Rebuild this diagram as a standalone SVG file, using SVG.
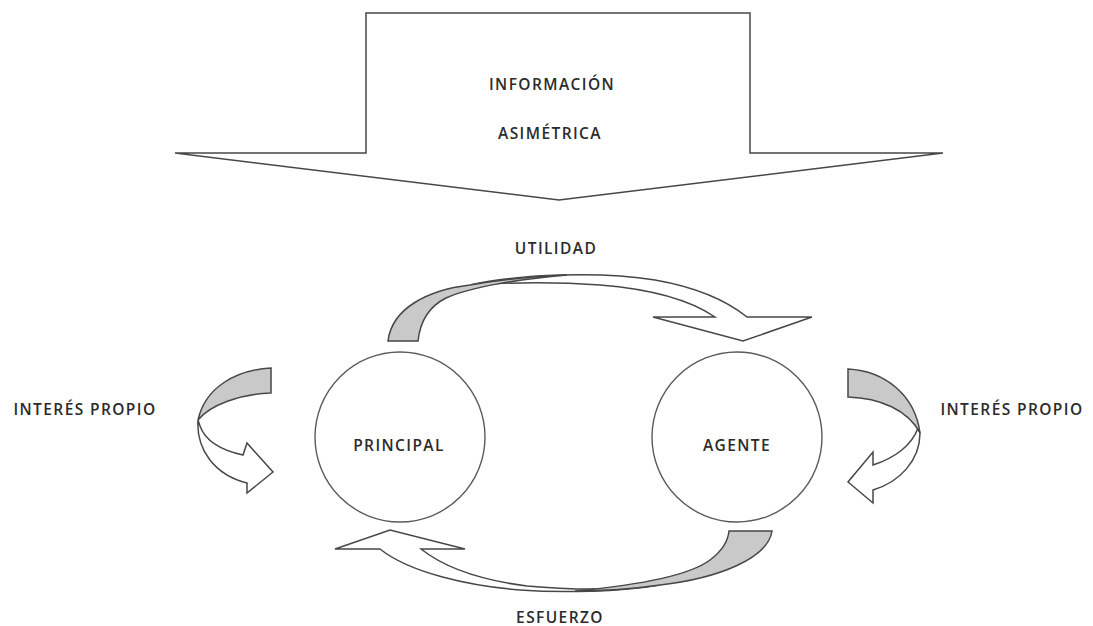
<svg xmlns="http://www.w3.org/2000/svg" width="1093" height="626" viewBox="0 0 1093 626">
<style>
.ln{fill:#fff;stroke:#474747;stroke-width:1.5;stroke-linejoin:miter}
.gr{fill:#c9c9c9;stroke:#474747;stroke-width:1.5}
.ci{fill:#fff;stroke:#5a5a5a;stroke-width:1.4}
.t{font-family:"Open Sans","Liberation Sans",sans-serif;font-size:15.5px;font-weight:600;letter-spacing:1.4px;fill:#2b2b2b;text-anchor:middle}
</style>
<rect width="1093" height="626" fill="#fff"/>
<g id="informacion">
<polygon class="ln" points="366,13 750,13 750,153 943,153 559,200 175,153 366,153"/>
<text class="t" x="552" y="90">INFORMACIÓN</text>
<text class="t" x="550" y="139">ASIMÉTRICA</text>
</g>
<g id="principal">
<circle class="ci" cx="400" cy="437" r="85"/>
<text class="t" x="399" y="451">PRINCIPAL</text>
</g>
<g id="agente">
<circle class="ci" cx="737" cy="437" r="85"/>
<text class="t" x="737" y="451">AGENTE</text>
</g>
<g id="connectors">
<g id="utilidad">
<path class="ln" d="M470,285 C520,274 600,271 655,280 C695,287 727,301 747,317 L812,317 L743,341 L653,317 L715,317 C690,300 650,289 600,285 C560,282 515,282 470,285 Z"/>
<path class="gr" d="M388,341 C392,308 428,290 470,285 C505,279 535,276 567,275 C520,279 470,287 446,298 C428,307 420,322 418,341 Z"/>
<text class="t" x="556" y="254">UTILIDAD</text>
</g>
<g id="esfuerzo">
<path class="ln" d="M660,585 C620,592 560,593 520,590 C470,586 410,573 380,549 L335,549 L390,530 L465,549 L421,549 C445,568 480,580 527,586 C570,590 620,590 660,585 Z"/>
<path class="gr" d="M772,531 C768,558 720,578 660,585 C625,590 600,591 575,591 C640,585 690,575 710,560 C722,551 728,541 729,531 Z"/>
<text class="t" x="560" y="623">ESFUERZO</text>
</g>
<g id="interes-izq">
<path class="ln" d="M198,420 C196,450 215,475 247,483 L247,493 L273,472 L247,443 L243,455 C220,450 205,440 200,426 Z"/>
<path class="gr" d="M271,368 C235,370 205,388 198,420 C210,405 240,394 271,393 Z"/>
<text class="t" x="85" y="415">INTERÉS PROPIO</text>
</g>
<g id="interes-der">
<path class="ln" d="M920,433 C920,460 900,482 873,490 L873,503 L848,482 L873,452 L873,465 C895,458 912,445 918,428 Z"/>
<path class="gr" d="M848,369 C885,371 915,395 920,433 C908,410 880,398 848,397 Z"/>
<text class="t" x="1012" y="415">INTERÉS PROPIO</text>
</g>
</g>
</svg>
